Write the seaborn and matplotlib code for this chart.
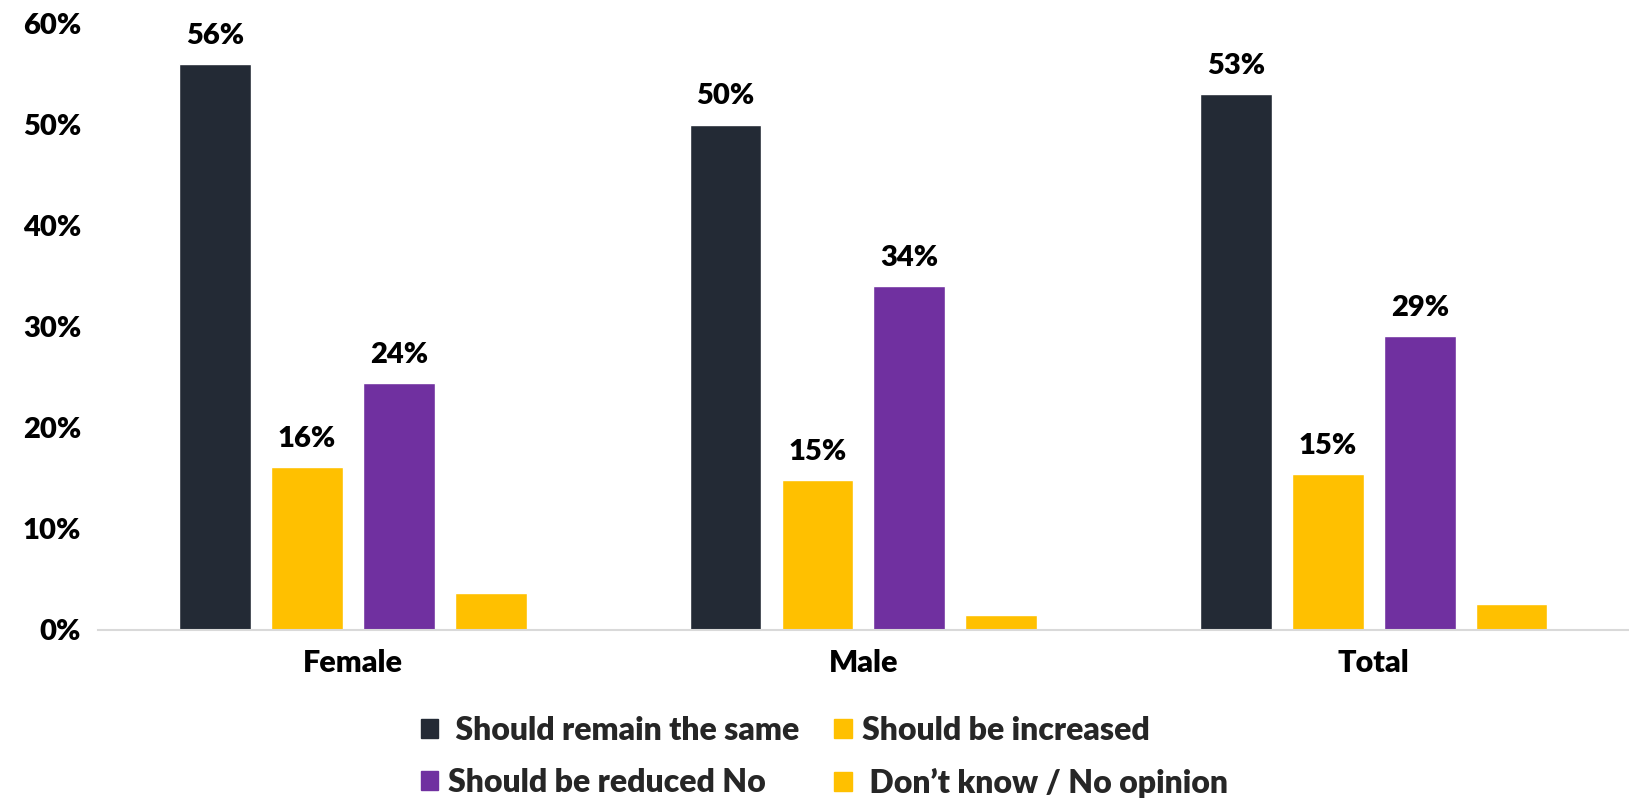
import matplotlib.pyplot as plt
import numpy as np
import pandas as pd
import seaborn as sns

groups = ['Female', 'Male', 'Total']
series = [' Should remain the same', 'Should be increased',
          'Should be reduced No', ' Don\u2019t know / No opinion']
remain_same = [0.56, 0.50, 0.53]
increased = [0.161, 0.148, 0.154]
reduced = [0.244, 0.34, 0.291]
dont_know = [0.037, 0.015, 0.026]
colors = ['#232A35', '#FFC000', '#7030A0', '#FFC000']
labelled = [True, True, True, False]

values = [remain_same, increased, reduced, dont_know]
df = pd.DataFrame({
    'group': groups * 4,
    'series': np.repeat(series, 3),
    'value': np.concatenate(values),
})

sns.set_theme(style='white')
plt.rcParams['font.family'] = ['Lato', 'DejaVu Sans']
plt.rcParams['font.weight'] = 'heavy'
W = 'heavy'

fig = plt.figure(figsize=(16.29, 8.01), dpi=100)
ax = fig.add_axes([0.06, 0.2135, 0.94, 0.757])

sns.barplot(data=df, x='group', y='value', hue='series', order=groups,
            hue_order=series, palette=dict(zip(series, colors)),
            width=0.72, gap=0.22, saturation=1, ax=ax, legend=False)

for cont, show in zip(ax.containers, labelled):
    if show:
        ax.bar_label(cont, labels=['{:.0f}%'.format(v * 100) for v in cont.datavalues],
                     padding=11, fontsize=21, fontweight=W, color='black')

ax.set_ylim(0, 0.6)
ax.set_xlim(-0.5, 2.5)
ticks = np.arange(0, 0.61, 0.1)
ax.set_yticks(ticks)
ax.set_yticklabels(['{:.0f}%'.format(t * 100) for t in ticks],
                   fontsize=21, fontweight=W, color='black')
ax.tick_params(axis='x', labelsize=22, pad=14, length=0, labelcolor='black')
ax.tick_params(axis='y', length=0, pad=12)
for lab in ax.get_xticklabels():
    lab.set_fontweight(W)
ax.set_xlabel('')
ax.set_ylabel('')
sns.despine(ax=ax, left=True)
ax.spines['bottom'].set_color('#D9D9D9')
ax.spines['bottom'].set_linewidth(1.5)

# legend fills column-wise, so rows come out (remain, increased) / (reduced, dont know)
handles = [plt.Rectangle((0, 0), 1, 1, color=c) for c in colors]
order = [0, 2, 1, 3]
fig.legend([handles[i] for i in order], [series[i] for i in order],
           loc='lower center', bbox_to_anchor=(0.506, -0.032), ncol=2,
           frameon=False, prop={'weight': W, 'size': 23},
           handlelength=0.55, handleheight=0.55, handletextpad=0.3,
           columnspacing=1.1, labelspacing=0.72)

fig.savefig('out.png', dpi=100)
